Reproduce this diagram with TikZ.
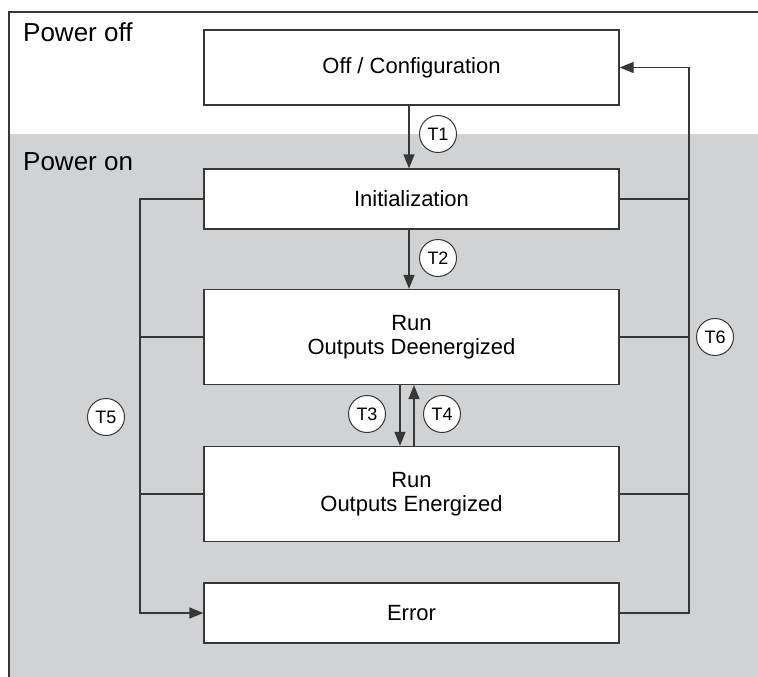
\documentclass[tikz,border=0pt]{standalone}
\usepackage{fontspec}
\setmainfont{Liberation Sans}
\usetikzlibrary{arrows.meta}
\definecolor{stateLine}{RGB}{55, 55, 55}
\definecolor{powerGray}{RGB}{209, 210, 212}

\begin{document}
\begin{tikzpicture}[x=1pt, y=-1pt]
                    \tikzstyle{statebox} = [rectangle, draw=stateLine, line width=1.3pt, fill=white, minimum width=415pt, inner sep=0pt, font=\fontsize{22}{24}\selectfont]
                    \tikzstyle{tlabel} = [circle, draw=stateLine, line width=1pt, fill=white, minimum size=37pt, inner sep=0pt, font=\fontsize{18}{21}\selectfont]
                    \tikzstyle{zone} = [anchor=base west, inner sep=0pt, font=\fontsize{26}{30}\selectfont]
                    \tikzstyle{link} = [draw=stateLine, line width=1.3pt]
                    \tikzstyle{arrow} = [-{Triangle[length=14pt, width=11pt]}, link]
                    
                    \useasboundingbox (0,0) rectangle (758,677);
                    \fill[powerGray] (9,134) rectangle (758,677);
                    \draw[line width=1.3pt, stateLine] (9,677) -- (9,12) -- (758,12);
                    \node[zone] (poff) at (23,42) {Power off};
                    \node[zone] (pon) at (23,170) {Power on};
                    
                    \node[statebox, minimum height=75pt] (off) at (411.5, 67.5) {Off / Configuration};
                    \node[statebox, minimum height=60pt] (init) at (411.5, 199) {Initialization};
                    \node[statebox, minimum height=95pt, align=center] (runde) at (411.5, 337) {Run\\Outputs Deenergized};
                    \node[statebox, minimum height=95pt, align=center] (rune) at (411.5, 494) {Run\\Outputs Energized};
                    \node[statebox, minimum height=60pt] (err) at (411.5, 613) {Error};
                    
                    % buses on both sides
                    \coordinate (ltop) at (140, 199);
                    \coordinate (lbot) at (140, 613);
                    \coordinate (rtop) at (689, 67.5);
                    \coordinate (rbot) at (689, 613);
                    
                    \draw[arrow] ([xshift=-2.5pt]off.south) -- ([xshift=-2.5pt]init.north);
                    \draw[arrow] ([xshift=-2.5pt]init.south) -- ([xshift=-2.5pt]runde.north);
                    \draw[arrow] ([xshift=-11.5pt]runde.south) -- ([xshift=-11.5pt]rune.north);
                    \draw[arrow] ([xshift=2.5pt]rune.north) -- ([xshift=2.5pt]runde.south);
                    
                    \draw[arrow] (init.west) -- (ltop) -- (lbot) -- (err.west);
                    \draw[link] (runde.west) -- (runde.west -| ltop);
                    \draw[link] (rune.west) -- (rune.west -| ltop);
                    
                    \draw[arrow] (err.east) -- (rbot) -- (rtop) -- (off.east);
                    \draw[link] (init.east) -- (init.east -| rtop);
                    \draw[link] (runde.east) -- (runde.east -| rtop);
                    \draw[link] (rune.east) -- (rune.east -| rtop);
                    
                    \node[tlabel] (t1) at (438, 134) {T1};
                    \node[tlabel] (t2) at (438, 258) {T2};
                    \node[tlabel] (t3) at (367, 414) {T3};
                    \node[tlabel] (t4) at (442, 414) {T4};
                    \node[tlabel] (t5) at (106, 417) {T5};
                    \node[tlabel] (t6) at (715, 337) {T6};
                \end{tikzpicture}
\end{document}
